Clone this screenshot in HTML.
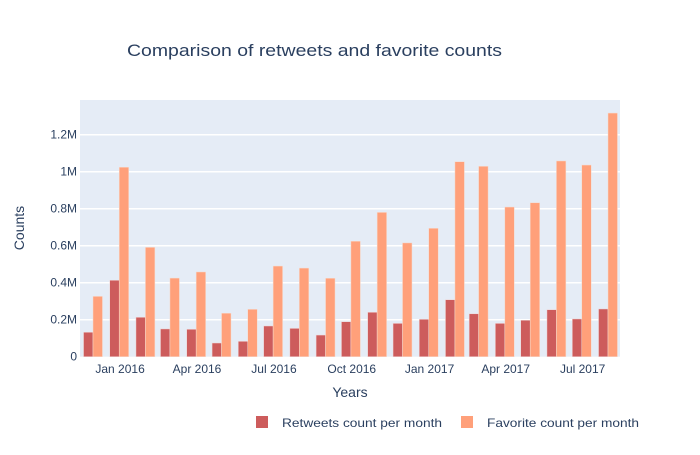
<!DOCTYPE html>
<html><head><meta charset="utf-8"><style>
body{margin:0;background:#fff;font-family:"Liberation Sans",sans-serif;}
svg text{font-family:"Liberation Sans",sans-serif;fill:#2a3f5f;}
</style></head><body>
<svg id="chart" width="700" height="450">
<rect width="700" height="450" fill="#fff"/>
<rect x="80" y="100" width="540" height="256.7" fill="#e5ecf6"/>
<g id="grid"></g><g id="bars"></g><g id="axes"></g>
<text x="127" y="56" font-size="17" textLength="375" lengthAdjust="spacingAndGlyphs">Comparison of retweets and favorite counts</text>
<text x="350" y="397" font-size="14" text-anchor="middle">Years</text>
<text x="24" y="228" font-size="14" text-anchor="middle" transform="rotate(-90 24 228)">Counts</text>
<g><rect x="256" y="416" width="12" height="12" fill="#cd5c5c"/><text x="282" y="427" font-size="12" textLength="160" lengthAdjust="spacingAndGlyphs">Retweets count per month</text></g>
<g><rect x="461" y="416" width="12" height="12" fill="#ffa07a"/><text x="487" y="427" font-size="12" textLength="152" lengthAdjust="spacingAndGlyphs">Favorite count per month</text></g>
</svg>
<script>
const months=["2015-11-30","2015-12-31","2016-01-31","2016-02-29","2016-03-31","2016-04-30","2016-05-31","2016-06-30","2016-07-31","2016-08-31","2016-09-30","2016-10-31","2016-11-30","2016-12-31","2017-01-31","2017-02-28","2017-03-31","2017-04-30","2017-05-31","2017-06-30","2017-07-31"];
const retweets=[0.132,0.413,0.213,0.150,0.148,0.074,0.083,0.166,0.153,0.117,0.189,0.240,0.180,0.202,0.308,0.232,0.180,0.197,0.254,0.204,0.258];
const favorites=[0.326,1.024,0.591,0.425,0.458,0.235,0.256,0.490,0.479,0.424,0.624,0.780,0.615,0.694,1.054,1.029,0.809,0.832,1.058,1.036,1.317];
const yTicks=[0,0.2,0.4,0.6,0.8,1,1.2];
const yTickLabels=["0","0.2M","0.4M","0.6M","0.8M","1M","1.2M"];
const xTicks=["2016-01-01","2016-04-01","2016-07-01","2016-10-01","2017-01-01","2017-04-01","2017-07-01"];
const xTickLabels=["Jan 2016","Apr 2016","Jul 2016","Oct 2016","Jan 2017","Apr 2017","Jul 2017"];
</script>
<script>
const NS="http://www.w3.org/2000/svg";
const DAY=86400000;
const t0=Date.parse("2015-11-30"),t1=Date.parse("2017-07-31");
const pxPerDay=(608-93)/((t1-t0)/DAY);
function x(d){return 93+(Date.parse(d)-t0)/DAY*pxPerDay;}
function y(v){return 356.7-v*185;}
function mk(tag,attrs,parent){const e=document.createElementNS(NS,tag);for(const k in attrs)e.setAttribute(k,attrs[k]);parent.appendChild(e);return e;}
const grid=document.getElementById('grid'),bars=document.getElementById('bars'),axes=document.getElementById('axes');
yTicks.forEach((v,i)=>{
  if(v>0){const l=mk('line',{x1:80,x2:620,y1:y(v),y2:y(v),stroke:'#fff','stroke-width':1.5},grid);
  
  }
  const t=mk('text',{x:77,y:y(v)+4,'font-size':12,'text-anchor':'end'},axes);
  t.textContent=yTickLabels[i];
  
  
});
xTicks.forEach((d,i)=>{
  const t=mk('text',{x:x(d),y:373,'font-size':12,'text-anchor':'middle'},axes);
  t.textContent=xTickLabels[i];
  
  
});
const bw=28*0.8*pxPerDay/2;
months.forEach((m,i)=>{
  const cx=x(m);
  const r=mk('rect',{x:cx-bw,y:y(retweets[i]),width:bw,height:356.7-y(retweets[i]),fill:'#cd5c5c',stroke:'#f0d8d8','stroke-width':0.5},bars);
  
  
  const f=mk('rect',{x:cx,y:y(favorites[i]),width:bw,height:356.7-y(favorites[i]),fill:'#ffa07a',stroke:'#f5dcd0','stroke-width':0.5},bars);
  
  
});
</script>
</body></html>
